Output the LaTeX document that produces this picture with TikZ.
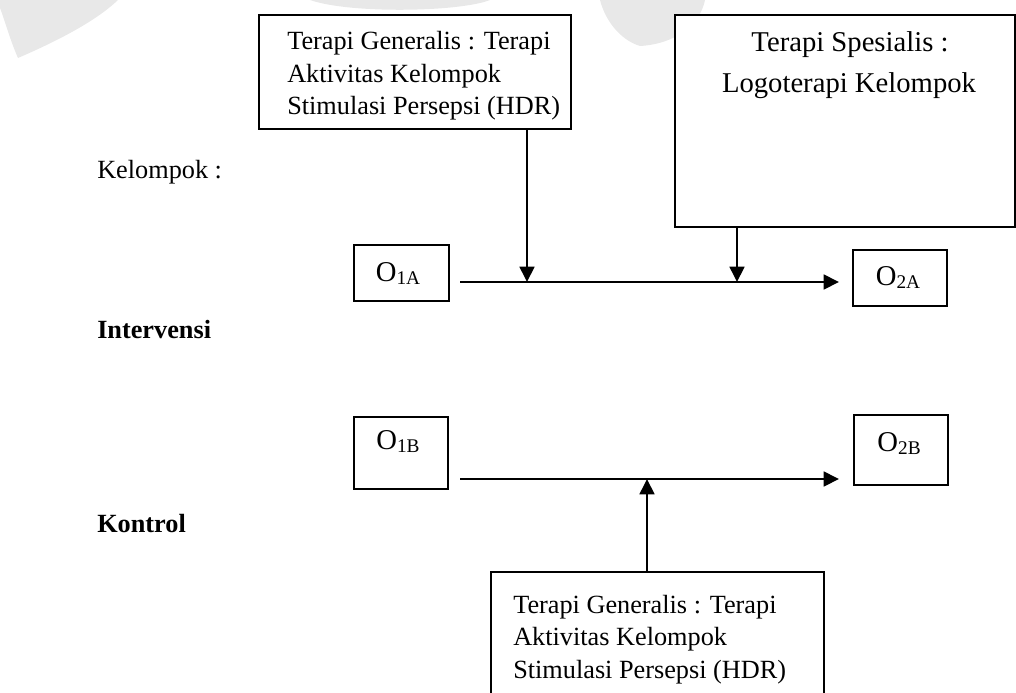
\documentclass[tikz,border=0pt]{standalone}
\usepackage{fontspec}
\setmainfont{Liberation Serif}
\usetikzlibrary{arrows.meta}

% subscripted observation label, e.g. \obs{1}{A}
\newcommand{\obs}[2]{O\raisebox{-0.28ex}{\fontsize{14.5}{14.5}\selectfont #1#2}}

\tikzset{
  box/.style={draw, fill=white, line width=1.5pt, inner sep=0pt, anchor=north west},
  txt/.style={inner sep=0pt, anchor=base west, font=\fontsize{19.7}{24}\selectfont},
  ctxt/.style={inner sep=0pt, anchor=base, font=\fontsize{21.5}{26}\selectfont},
  obstxt/.style={inner sep=0pt, anchor=base, font=\fontsize{21.5}{24}\selectfont},
  boldtxt/.style={txt, font=\fontsize{19.7}{24}\selectfont\bfseries},
  flow/.style={line width=2pt, -{Triangle[length=11.5pt, width=11pt]}},
  mark wm/.style={fill=black!9, draw=none}
}

\begin{document}
\begin{tikzpicture}[x=0.75pt, y=-0.75pt]
  \useasboundingbox (0,0) rectangle (1016,692);

  % faint watermark emblem along the top edge
  \fill[mark wm] (0,0) -- (118,0) .. controls (95,22) and (55,42) .. (18,58)
                 .. controls (10,40) and (4,18) .. (0,8) -- cycle;
  \fill[mark wm] (310,0) -- (490,0) .. controls (460,12) and (350,14) .. (310,0) -- cycle;
  \fill[mark wm] (600,0) -- (705,0) .. controls (700,25) and (675,44) .. (640,46)
                 .. controls (620,40) and (605,20) .. (600,0) -- cycle;

  % therapy boxes
  \node[box, minimum width=312*0.75pt, minimum height=114*0.75pt] (gen1) at (258,14) {};
  \node[txt] (gen1a) at (287,50) {Terapi Generalis : Terapi};
  \node[txt] (gen1b) at (287,82) {Aktivitas Kelompok};
  \node[txt] (gen1c) at (287,114) {Stimulasi Persepsi (HDR)};

  \node[box, minimum width=340*0.75pt, minimum height=212*0.75pt] (spes) at (674,14) {};
  \node[ctxt] (spesa) at (850,51) {Terapi Spesialis :};
  \node[ctxt] (spesb) at (849,93) {Logoterapi Kelompok};

  \node[box, minimum width=333*0.75pt, minimum height=140*0.75pt] (gen2) at (490,571) {};
  \node[txt] (gen2a) at (513,613) {Terapi Generalis : Terapi};
  \node[txt] (gen2b) at (513,645) {Aktivitas Kelompok};
  \node[txt] (gen2c) at (513,678) {Stimulasi Persepsi (HDR)};

  % group labels
  \node[txt] (kel) at (97,178) {Kelompok :};
  \node[boldtxt] (int) at (97,338) {Intervensi};
  \node[boldtxt] (kon) at (97,532) {Kontrol};

  % observation boxes
  \node[box, minimum width=95*0.75pt, minimum height=56*0.75pt] (o1a) at (353,244) {};
  \node[obstxt] (o1at) at (398,281) {\obs{1}{A}};
  \node[box, minimum width=94*0.75pt, minimum height=56*0.75pt] (o2a) at (852,249) {};
  \node[obstxt] (o2at) at (898,285) {\obs{2}{A}};
  \node[box, minimum width=94*0.75pt, minimum height=72*0.75pt] (o1b) at (353,416) {};
  \node[obstxt] (o1bt) at (398,449) {\obs{1}{B}};
  \node[box, minimum width=94*0.75pt, minimum height=70*0.75pt] (o2b) at (853,414) {};
  \node[obstxt] (o2bt) at (899,451) {\obs{2}{B}};

  % flow lines and junctions
  \coordinate (a0) at (460,282);
  \coordinate (a1) at (839,282);
  \coordinate (ja1) at (527,282);
  \coordinate (ja2) at (737,282);
  \coordinate (b0) at (460,479);
  \coordinate (b1) at (839,479);
  \coordinate (jb) at (647,479);

  \draw[flow] (a0) -- (a1);
  \draw[flow] (ja1 |- gen1.south) -- (ja1);
  \draw[flow] (ja2 |- spes.south) -- (ja2);

  \draw[flow] (b0) -- (b1);
  \draw[flow] (jb |- gen2.north) -- (jb);
\end{tikzpicture}
\end{document}
